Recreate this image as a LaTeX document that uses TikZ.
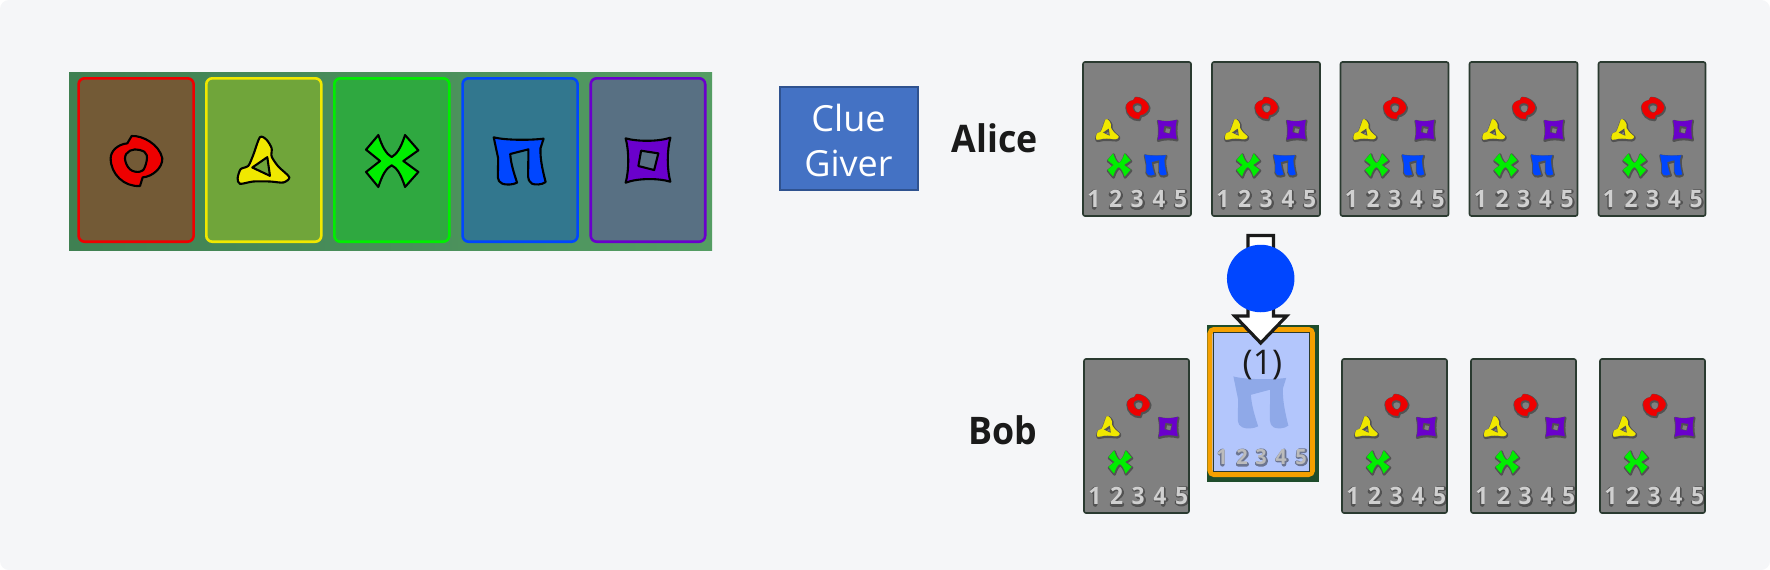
\documentclass[tikz,border=0pt]{standalone}
\usepackage{fontspec}
\setmainfont{Open Sans}
\newfontfamily\labelfont[FakeStretch=0.94]{Open Sans}
\newfontfamily\digitfont[FakeStretch=0.95]{Open Sans}
\definecolor{pagebg}{HTML}{F5F6F8}
\definecolor{stripl}{HTML}{3F8052}
\definecolor{stripr}{HTML}{549D63}
\definecolor{cardred}{HTML}{735A36}
\definecolor{cardyel}{HTML}{70A53A}
\definecolor{cardgrn}{HTML}{2FA840}
\definecolor{cardblu}{HTML}{32778E}
\definecolor{cardpur}{HTML}{587083}
\definecolor{hred}{HTML}{EE0000}
\definecolor{hyel}{HTML}{F0E800}
\definecolor{hgrn}{HTML}{00EE00}
\definecolor{hblu}{HTML}{0046FF}
\definecolor{hpur}{HTML}{6A00CC}
\definecolor{cluefill}{HTML}{4472C4}
\definecolor{clueedge}{HTML}{2F528F}
\definecolor{ink}{HTML}{1A1A1A}
\definecolor{cardedge}{HTML}{2A3A30}
\definecolor{digit}{HTML}{D0D0D0}
\definecolor{orangeedge}{HTML}{F5A000}
\definecolor{darkgreen}{HTML}{1F4D2C}
\definecolor{paleblue}{HTML}{B3C6FC}
\definecolor{palepi}{HTML}{8FA9E8}
\definecolor{cardgray}{HTML}{808080}
\tikzset{
  bigcard/.style={draw=#1,line width=2.6pt,rounded corners=6pt,inner sep=0pt,outer sep=0pt,anchor=north west,minimum width=115pt,minimum height=163.4pt},
  tinycard/.style={draw=cardedge,line width=1.6pt,fill=cardgray,rounded corners=2pt,inner sep=0pt,outer sep=0pt,anchor=north west,minimum height=154pt},
  lbl/.style={inner sep=0pt,text=ink,font=\labelfont\fontsize{38}{38}\selectfont\bfseries,anchor=base east},
  num/.style={inner sep=0pt,text=digit,font=\digitfont\fontsize{24}{24}\selectfont\bfseries},
  numo/.style={inner sep=0pt,text=digit!90!black,font=\digitfont\fontsize{21}{21}\selectfont\bfseries},
  glyphline/.style={draw=black,line width=2.1pt,line join=round,even odd rule},
  halo/.style={draw=black!85,opacity=0.5,line width=#1,line cap=round,line join=round},
}
% glyph outlines, in zoom units around the glyph centre
\newcommand{\ringpath}{(-13,-75) .. controls (20,-77) and (70,-50) .. (79,-8) .. controls (80,20) and (50,47) .. (20,49) -- (12,75) .. controls (-35,78) and (-76,40) .. (-76,-8) .. controls (-76,-30) and (-55,-50) .. (-26,-53) -- cycle
  plot[smooth cycle,tension=0.7] coordinates{(-33,-8)(-18,-31)(12,-33)(32,-18)(27,17)(12,32)(-18,25)}}
\newcommand{\tripath}{plot[smooth cycle,tension=0.45] coordinates{(-10,-73)(10,-65)(25,-40)(25,-15)(45,15)(78,47)(60,63)(20,60)(-30,60)(-70,67)(-77,50)(-68,23)(-45,13)(-30,-20)}
  (-33,18)--(12,-13)--(20,43)--cycle}
\newcommand{\xpath}{(-40,-78) .. controls (-28,-40) and (-15,-20) .. (0,-12) .. controls (15,-20) and (28,-40) .. (40,-78) -- (80,-32) -- (35,0) -- (80,33) -- (40,78) .. controls (28,40) and (15,20) .. (0,13) .. controls (-15,20) and (-28,40) .. (-40,78) -- (-77,33) -- (-35,0) -- (-77,-34) -- cycle}
\newcommand{\pipath}{(-75,-71) .. controls (-40,-62) and (30,-62) .. (70,-67) -- (61,-38) .. controls (60,-10) and (65,20) .. (76,63) .. controls (65,72) and (45,72) .. (36,68) .. controls (28,62) and (25,55) .. (25,47) -- (26,-35) -- (-27,-21) .. controls (-25,10) and (-15,40) .. (-7,65) .. controls (-20,72) and (-40,72) .. (-50,68) .. controls (-58,64) and (-63,58) .. (-63,49) -- (-62,-8) -- cycle}
\newcommand{\sqpath}{(-65,-67) .. controls (-30,-57) and (30,-57) .. (65,-69) .. controls (55,-30) and (55,25) .. (65,63) .. controls (30,52) and (-30,52) .. (-65,66) .. controls (-55,30) and (-55,-30) .. (-65,-67) -- cycle
  (-20,-30) -- (30,-22) -- (18,28) -- (-28,16) -- cycle}
\newcommand{\bigglyph}[5][0.3333pt]{\draw[glyphline,fill=#4,shift={(#2,#3)},x=#1,y=-0.3333pt] #5;}
\newcommand{\tinyglyph}[4]{%
  \draw[halo=2.8pt,shift={(#1+0.5,#2+1)},x=0.145pt,y=-0.145pt] #4;
  \draw[draw=#3,fill=#3,line width=0.2pt,line join=round,even odd rule,shift={(#1,#2)},x=0.145pt,y=-0.145pt] #4;}
% dark halo traced behind each digit (y runs upward here)
\newcommand{\digithalo}[4]{\draw[halo=#3,shift={(#1+0.4,#2+0.5)},x=#4,y=#4] 
  \ifcase\digitno\or
   (-3,5) -- (0,8) -- (0,-8)\or
   (-5,5) .. controls (-4,9) and (5,9) .. (5,4) .. controls (5,1) and (-3,-3) .. (-5,-8) -- (5,-8)\or
   (-4,7) .. controls (0,9) and (5,8) .. (4,4) .. controls (4,1) and (1,0) .. (-1,0) .. controls (3,0) and (6,-2) .. (5,-4) .. controls (5,-9) and (-2,-9) .. (-5,-7)\or
   (3,-8) -- (3,8) -- (-5,-3) -- (6,-3)\or
   (4,8) -- (-3,8) -- (-4,1) .. controls (1,3) and (5,1) .. (5,-3) .. controls (5,-8) and (-2,-9) .. (-5,-6)\fi;}
\newcount\digitno
\newcommand{\digitat}[6]{% style, name, x, y, digit, halo scale
  \digitno=#5\relax
  \digithalo{#3}{#4}{4.6pt}{#6}
  \node[#1] (#2) at (#3,#4) {#5};}
% \tinycardat{name}{x}{y}{width}{with pi?}
\newcommand{\tinycardat}[5]{%
  \node[tinycard,minimum width=#4pt] (#1) at (#2,#3) {};
  \tinyglyph{#2+54.2}{#3+46}{hred}{\ringpath}
  \tinyglyph{#2+24.2}{#3+68}{hyel}{\tripath}
  \tinyglyph{#2+84.2}{#3+68}{hpur}{\sqpath}
  \tinyglyph{#2+35.8}{#3+103}{hgrn}{\xpath}
  \ifx#5y\tinyglyph{#2+72.5}{#3+103}{hblu}{\pipath}\fi
  \digitat{num}{#1d1}{#2+10.8}{#3+137}{1}{1pt}
  \digitat{num}{#1d2}{#2+32.5}{#3+137}{2}{1pt}
  \digitat{num}{#1d3}{#2+54.2}{#3+137}{3}{1pt}
  \digitat{num}{#1d4}{#2+75.8}{#3+137}{4}{1pt}
  \digitat{num}{#1d5}{#2+97.5}{#3+137}{5}{1pt}
}
\begin{document}
\begin{tikzpicture}[x=1pt,y=-1pt]
\useasboundingbox (0,0) rectangle (1770,570);
\fill[white] (0,0) rectangle (1770,570);
\fill[pagebg,rounded corners=9pt] (0,0) rectangle (1770,570);
% card strip
\shade[left color=stripl,right color=stripr] (69,72) rectangle (712,250);
\node[bigcard=hred,fill=cardred] (c1) at (78.6,78.3) {};
\node[bigcard=hyel,fill=cardyel] (c2) at (206.3,78.3) {};
\node[bigcard=hgrn,fill=cardgrn] (c3) at (334.3,78.3) {};
\node[bigcard=hblu,fill=cardblu] (c4) at (462.6,78.3) {};
\node[bigcard=hpur,fill=cardpur,minimum width=114.5pt] (c5) at (590.7,78.3) {};
\bigglyph{136}{161}{hred}{\ringpath}
\bigglyph{263.3}{161.5}{hyel}{\tripath}
\bigglyph{391.7}{161}{hgrn}{\xpath}
\bigglyph[0.344pt]{519.5}{161}{hblu}{\pipath}
\bigglyph[0.344pt]{648}{160.7}{hpur}{\sqpath}
% clue giver
\node[draw=clueedge,line width=1.8pt,fill=cluefill,minimum width=138pt,minimum height=103pt,inner sep=0pt,outer sep=0pt] (clue) at (849,138.5) {};
\node[inner sep=0pt,text=white,font=\fontsize{36}{36}\selectfont,anchor=base] (cluet1) at (848.5,131) {Clue};
\node[inner sep=0pt,text=white,font=\fontsize{36}{36}\selectfont,anchor=base] (cluet2) at (848.5,176) {Giver};
% names
\node[lbl] (alice) at (1038,152) {Alice};
\node[lbl] (bob) at (1037.5,444) {Bob};
% Alice's cards
\tinycardat{a1}{1083}{62}{108}{y}
\tinycardat{a2}{1212}{62}{108}{y}
\tinycardat{a3}{1340.5}{62}{108}{y}
\tinycardat{a4}{1469.5}{62}{108}{y}
\tinycardat{a5}{1598.5}{62}{107}{y}
% Bob's cards
\tinycardat{b1}{1084}{359}{105}{n}
\tinycardat{b3}{1342}{359}{105}{n}
\tinycardat{b4}{1471}{359}{105}{n}
\tinycardat{b5}{1600}{359}{105}{n}
% touched card
\fill[darkgreen] (1207,325) rectangle (1319,482);
\node[draw=orangeedge,line width=5pt,fill=paleblue,rounded corners=4pt,inner sep=0pt,outer sep=0pt,minimum width=102.5pt,minimum height=145pt] (b2) at (1261.2,402) {};
\draw[cardedge,line width=0.8pt] (1213,332) rectangle (1309,471);
\fill[palepi,shift={(1260.7,402.5)},x=0.364pt,y=-0.3667pt] \pipath;
\digitat{numo}{b2d1}{1222}{457}{1}{0.85pt}
\digitat{numo}{b2d2}{1242}{457}{2}{0.85pt}
\digitat{numo}{b2d3}{1261}{457}{3}{0.85pt}
\digitat{numo}{b2d4}{1281}{457}{4}{0.85pt}
\digitat{numo}{b2d5}{1301}{457}{5}{0.85pt}
% clue arrow
\coordinate (tip) at (1260.7,343);
\draw[draw=ink,fill=white,line width=3.2pt,miter limit=4] (tip) -- ++(-26,-27) -- ++(13.3,0) -- (1248,235.5) -- (1273.4,235.5) -- (1273.4,316) -- ++(13.3,0) -- cycle;
\node[circle,fill=hblu,minimum size=67.5pt,inner sep=0pt] (clueball) at (1260.7,278.5) {};
\node[inner sep=0pt,text=ink,font=\fontsize{34}{34}\selectfont] (cnt) at (1262.5,365) {(1)};
\end{tikzpicture}
\end{document}
